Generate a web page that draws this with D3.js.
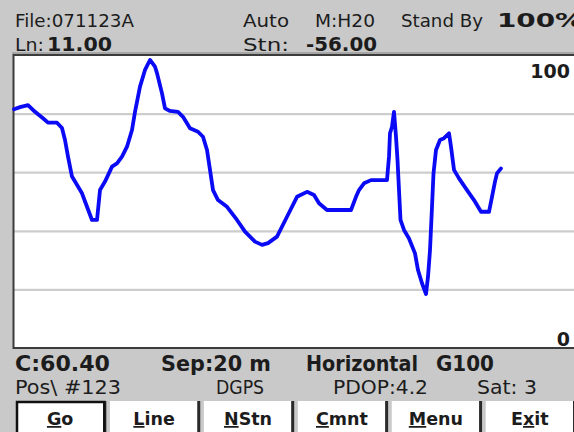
<!DOCTYPE html>
<html><head><meta charset="utf-8">
<script src="https://cdn.jsdelivr.net/npm/d3@7"></script>
<style>
html,body{margin:0;padding:0;background:#c9c9c9;overflow:hidden}
svg{display:block}
text{font-family:"DejaVu Sans",sans-serif;fill:#1c1c1c}
</style></head><body>
<svg id="screen" width="574" height="432"></svg>
<script>
// Profile along the survey line: station position and instrument reading (%)
const stations = [0,3,7,10.5,14.5,17,21.5,24,25.5,27,29,30.5,34,36.5,39,41.5,43,45.5,49,51.5,54,56.5,59,60.5,63,65.5,68,70.5,71.5,74,75.5,78,82,84.5,88,92,94.5,96.5,98,99.5,102,106.5,111.5,115.5,120.5,124,127,131.5,136.5,141.5,146.5,150,152.5,156.5,168.5,171,172.5,175,178.5,186.5,187.5,188,189,190,191,191.75,192.5,193.25,195,197.5,200.5,202,204,206,207,208,209,209.75,211,213,215,217.5,218.5,220,222.5,226.5,230,233.5,237.5,239,240.5,241.5,243.5];
const readings = [81.5,82.2,82.9,80.6,78.4,76.9,76.9,75.1,71.0,65.3,58.5,56.8,52.8,48.2,43.7,43.7,53.9,56.8,61.9,63.0,65.3,68.7,74.4,80.6,89.2,94.9,98.3,96.0,93.8,86.9,81.8,80.9,80.6,78.9,75.0,73.8,72.1,67.6,60.8,53.9,50.5,48.2,43.7,39.7,36.3,35.2,35.8,38.0,44.8,51.6,53.3,52.2,49.4,47.1,47.1,51.6,53.9,56.2,57.3,57.3,65.3,73.3,75.5,80.6,72.1,64.2,53.9,43.7,40.3,37.4,32.3,26.6,22.1,18.4,24.3,33.4,48.2,59.6,67.6,71.0,71.6,73.3,68.7,60.8,57.9,53.9,50.5,46.5,46.5,51.6,56.8,59.6,61.3];
const gridTicks = [20, 40, 60, 80];
const scaleLabelValues = [100, 0];
const scaleLabels = ["100", "0"];

// Status panel text
const headerTop = ["File:071123A", "Auto", "M:H20", "Stand By", "100%"];
const headerBottom = ["Ln:", "11.00", "Stn:", "-56.00"];
const footerTop = ["C:60.40", "Sep:20 m", "Horizontal", "G100"];
const footerBottom = ["Pos\\ #123", "DGPS", "PDOP:4.2", "Sat: 3"];
const buttonLabels = ["Go", "Line", "NStn", "Cmnt", "Menu", "Exit"];
const hotkeyIndex = [0, 0, 0, 0, 0, 1];

const svg = d3.select("#screen");
const W = 574, H = 432;
const plot = {left: 14, top: 56, right: 576, bottom: 347};

svg.append("rect").attr("width", W).attr("height", H).attr("fill", "#c9c9c9");

// ---- plot window ----
const x = d3.scaleLinear().domain([0, 280]).range([plot.left, plot.left + 560]);
const y = d3.scaleLinear().domain([0, 100]).range([348, 55]);

svg.append("rect")
  .attr("x", plot.left).attr("y", plot.top)
  .attr("width", plot.right - plot.left).attr("height", plot.bottom - plot.top)
  .attr("fill", "#ffffff");

// horizontal grid via an axis with full-width ticks
const grid = svg.append("g")
  .attr("transform", `translate(${plot.left},0)`)
  .call(d3.axisRight(y).tickValues(gridTicks).tickSize(W - plot.left).tickFormat(""));
grid.select(".domain").remove();
grid.selectAll(".tick line").attr("stroke", "#cdcdcd").attr("stroke-width", 2.2);

// frame
svg.append("path")
  .attr("d", `M${plot.right},${plot.top - 1}H${plot.left - 0.5}V${plot.bottom + 1}H${plot.right}`)
  .attr("fill", "none").attr("stroke", "#3c3c3c").attr("stroke-width", 2);
svg.append("line")
  .attr("x1", plot.left - 2).attr("x2", W).attr("y1", plot.top - 3).attr("y2", plot.top - 3)
  .attr("stroke", "#9a9a9a").attr("stroke-width", 1.5);

// profile trace
const profile = d3.zip(stations, readings);
svg.append("path")
  .datum(profile)
  .attr("fill", "none")
  .attr("stroke", "#0a0af5")
  .attr("stroke-width", 3.8)
  .attr("stroke-linejoin", "round")
  .attr("stroke-linecap", "round")
  .attr("d", d3.line().x(d => x(d[0])).y(d => y(d[1])));

// scale end labels
svg.selectAll("text.scale")
  .data(scaleLabelValues)
  .join("text")
  .attr("class", "scale")
  .attr("x", 570)
  .attr("y", d => d === 100 ? y(d) + 23 : y(d) - 2)
  .attr("text-anchor", "end")
  .attr("font-weight", "bold")
  .attr("font-size", 19)
  .text((d, i) => scaleLabels[i]);

// ---- status text ----
function statusRow(items, xs, widths, bold, baseline, size) {
  svg.append("g").selectAll("text")
    .data(items)
    .join("text")
    .attr("x", (d, i) => xs[i])
    .attr("y", baseline)
    .attr("font-size", (d, i) => bold[i] ? size + 1 : size)
    .attr("font-weight", (d, i) => bold[i] ? "bold" : "normal")
    .attr("textLength", (d, i) => widths[i])
    .attr("lengthAdjust", "spacingAndGlyphs")
    .text(d => d);
}
statusRow(headerTop, [15, 243, 315, 401, 497], [119, 46, 60, 82, 86], [0, 0, 0, 0, 1], 27, 18.5);
statusRow(headerBottom, [15, 47, 243, 306], [29, 65, 46, 71], [0, 1, 0, 1], 51, 18.5);
statusRow(footerTop, [15, 161, 306, 436], [95, 110, 112, 58], [1, 1, 1, 1], 371, 19.5);
statusRow(footerBottom, [15, 216, 333, 477], [106, 48, 95, 60], [0, 0, 0, 0], 394, 19);

// ---- soft-key buttons ----
const bx = d3.scaleBand().domain(buttonLabels).range([16, 574]).paddingInner(0.06);
const btn = svg.append("g").selectAll("g")
  .data(buttonLabels)
  .join("g")
  .attr("transform", d => `translate(${bx(d)},401)`);

btn.append("rect")
  .attr("width", bx.bandwidth()).attr("height", 40)
  .attr("fill", "#ffffff");
btn.append("rect")
  .attr("x", bx.bandwidth() - 1).attr("y", 0)
  .attr("width", 3).attr("height", 40)
  .attr("fill", "#2a2a2a");
btn.filter((d, i) => i === 0).append("rect")
  .attr("x", 1).attr("y", 1)
  .attr("width", bx.bandwidth() - 1).attr("height", 40)
  .attr("fill", "none").attr("stroke", "#111").attr("stroke-width", 2.5);

const label = btn.append("text")
  .attr("x", bx.bandwidth() / 2)
  .attr("y", 24)
  .attr("text-anchor", "middle")
  .attr("font-weight", "bold")
  .attr("font-size", 17.5);
label.each(function(d, i) {
  const t = d3.select(this);
  const k = hotkeyIndex[i];
  if (k > 0) t.append("tspan").text(d.slice(0, k));
  t.append("tspan").attr("text-decoration", "underline").text(d[k]);
  t.append("tspan").text(d.slice(k + 1));
});
</script>
</body></html>
